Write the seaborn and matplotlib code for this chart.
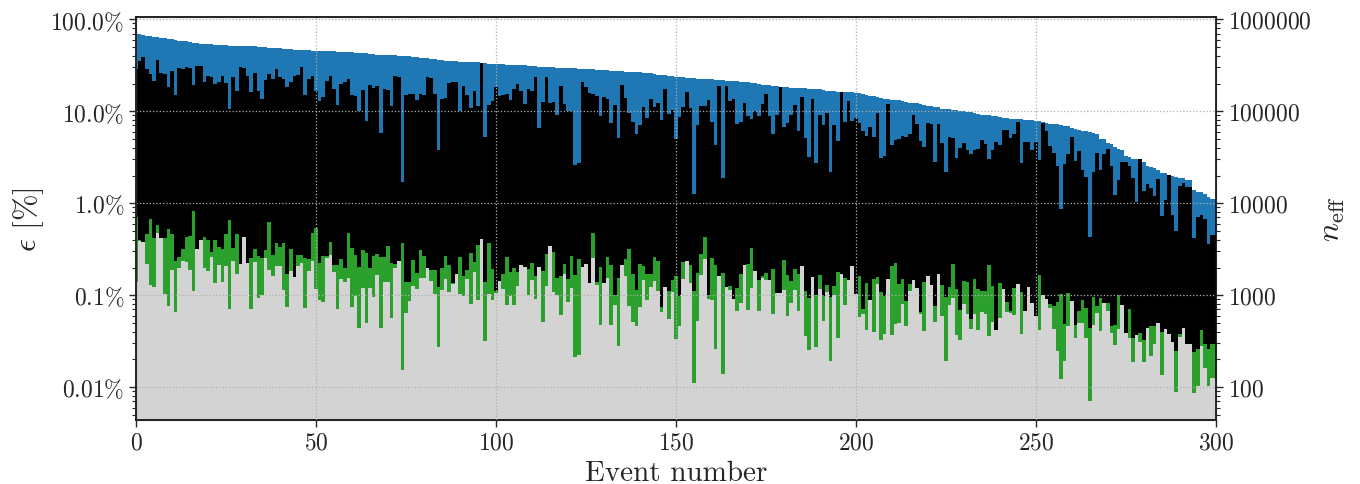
import numpy as np
import pandas as pd
import matplotlib
matplotlib.use("Agg")
import matplotlib.pyplot as plt
import seaborn as sns

# ---------------- data (percent efficiency per event) ----------------
blue_eff = [70.0, 69.4, 68.2, 66.5, 65.4, 64.3, 64.3, 62.8, 62.3, 61.2,
            61.2, 59.7, 58.7, 58.2, 58.2, 57.2, 55.8, 55.3, 53.9, 53.9,
            53.9, 53.9, 52.6, 52.6, 52.6, 52.6, 51.3, 51.3, 51.3, 51.3,
            51.3, 51.3, 51.3, 51.3, 50.1, 50.1, 50.1, 48.8, 48.8, 48.8,
            48.8, 47.6, 47.6, 47.6, 46.5, 46.5, 46.5, 46.5, 46.5, 45.3,
            45.3, 45.3, 45.3, 45.3, 45.3, 45.3, 44.2, 44.2, 44.2, 44.2,
            44.2, 43.1, 43.1, 43.1, 43.1, 42.0, 42.0, 41.0, 41.0, 41.0,
            41.0, 41.0, 41.0, 39.9, 39.9, 39.9, 39.9, 38.9, 38.9, 37.9,
            37.9, 37.9, 37.0, 37.0, 36.1, 36.1, 35.2, 35.2, 35.2, 35.2,
            34.3, 34.3, 34.3, 34.3, 34.3, 34.3, 33.5, 33.5, 32.6, 32.6,
            32.6, 32.6, 32.6, 31.8, 31.8, 31.8, 31.8, 31.8, 31.8, 31.0,
            31.0, 31.0, 30.2, 30.2, 30.2, 30.2, 30.2, 29.5, 29.5, 29.5,
            29.5, 29.5, 29.5, 28.7, 28.7, 28.7, 28.7, 28.7, 28.0, 28.0,
            28.0, 28.0, 27.3, 27.3, 27.3, 27.3, 26.6, 26.6, 26.6, 26.6,
            26.6, 26.0, 26.0, 26.0, 25.3, 24.7, 24.7, 24.7, 24.1, 24.1,
            23.5, 23.5, 23.5, 22.9, 22.9, 22.9, 22.3, 22.3, 22.3, 22.3,
            22.3, 21.8, 21.8, 21.8, 21.2, 21.2, 21.2, 21.2, 20.7, 20.7,
            20.7, 20.2, 20.2, 19.8, 19.3, 19.3, 19.3, 18.8, 18.8, 18.4,
            18.4, 18.4, 17.9, 17.9, 17.9, 17.9, 17.9, 17.5, 17.5, 17.5,
            17.5, 17.0, 16.6, 16.6, 16.6, 16.2, 16.2, 16.2, 16.2, 16.2,
            15.8, 15.8, 15.4, 15.0, 14.7, 14.7, 14.3, 14.0, 13.6, 13.6,
            13.3, 13.3, 13.3, 12.9, 12.6, 12.3, 12.3, 12.3, 12.0, 11.7,
            11.4, 11.4, 11.1, 11.1, 10.6, 10.6, 10.6, 10.3, 10.3, 10.0,
            10.0, 9.75, 9.75, 9.50, 9.27, 9.04, 9.04, 9.04, 8.82, 8.82,
            8.60, 8.39, 8.39, 8.32, 8.32, 8.18, 8.18, 7.98, 7.98, 7.98,
            7.78, 7.78, 7.59, 7.40, 7.22, 7.22, 7.22, 7.04, 6.87, 6.87,
            6.53, 6.37, 6.21, 6.06, 6.06, 5.91, 5.76, 5.62, 4.94, 4.94,
            4.47, 4.36, 4.04, 3.85, 3.75, 3.30, 3.22, 3.06, 2.99, 2.99,
            2.84, 2.57, 2.45, 2.39, 2.27, 2.11, 2.11, 2.05, 2.00, 1.95,
            1.90, 1.86, 1.77, 1.77, 1.39, 1.32, 1.32, 1.26, 1.17, 1.11,
            1.11]

black_eff = [29.0, 35.2, 38.9, 28.8, 25.4, 21.3, 36.1, 26.0, 25.4, 18.3,
             27.4, 15.0, 29.5, 28.8, 30.3, 29.5, 19.2, 31.0, 31.0, 20.8,
             24.1, 23.5, 19.7, 20.8, 24.1, 20.2, 10.6, 23.5, 16.5, 30.3,
             29.5, 24.1, 16.1, 26.0, 16.5, 13.5, 21.8, 25.4, 22.4, 28.8,
             23.5, 22.4, 18.3, 20.8, 24.1, 24.7, 30.3, 15.0, 22.4, 24.1,
             16.5, 12.9, 14.2, 21.3, 24.1, 17.4, 11.6, 19.7, 20.8, 22.4,
             15.0, 14.6, 10.0, 17.0, 7.78, 19.2, 17.8, 18.8, 5.75, 17.4,
             17.0, 11.3, 24.1, 23.5, 1.72, 15.0, 15.3, 15.3, 13.2, 15.3,
             15.0, 23.5, 22.9, 15.3, 3.78, 13.5, 13.9, 20.2, 20.8, 20.8,
             10.0, 18.8, 15.0, 10.8, 16.5, 11.3, 33.5, 5.20, 11.6, 12.9,
             18.3, 14.6, 15.0, 15.3, 13.2, 17.4, 19.7, 16.5, 11.9, 17.4,
             16.5, 23.5, 6.52, 12.5, 23.5, 12.2, 12.5, 9.04, 18.8, 11.9,
             10.0, 10.0, 2.63, 2.77, 20.8, 18.3, 15.7, 15.3, 14.6, 8.82,
             14.2, 13.5, 7.40, 11.6, 5.07, 19.2, 13.9, 9.51, 7.58, 5.61,
             7.03, 11.1, 8.39, 13.5, 11.1, 12.2, 7.98, 17.4, 9.27, 10.3,
             4.94, 8.60, 11.1, 16.1, 10.8, 1.27, 7.03, 11.3, 11.3, 13.2,
             7.58, 4.25, 18.8, 1.90, 18.8, 12.9, 13.5, 7.21, 7.58, 12.2,
             8.82, 8.18, 10.0, 8.82, 11.9, 15.3, 8.82, 5.61, 9.04, 18.3,
             6.69, 7.40, 9.04, 11.6, 6.05, 14.2, 5.07, 3.22, 13.5, 2.77,
             9.04, 7.03, 9.51, 2.21, 7.03, 4.70, 16.1, 7.58, 12.9, 7.78,
             8.39, 7.40, 6.05, 5.33, 6.69, 5.20, 9.51, 3.14, 3.30, 11.9,
             4.25, 4.82, 4.94, 5.33, 5.20, 5.61, 9.04, 7.21, 4.70, 4.04,
             7.40, 7.21, 2.84, 7.21, 4.47, 2.21, 5.20, 5.07, 3.14, 3.94,
             4.47, 3.75, 3.47, 3.75, 3.84, 4.82, 4.36, 2.99, 3.75, 4.58,
             4.25, 6.20, 6.20, 5.07, 5.61, 7.58, 2.77, 4.58, 4.58, 3.75,
             4.58, 2.94, 7.40, 6.05, 4.15, 3.56, 2.57, 0.871, 2.70, 3.39,
             5.20, 2.91, 3.66, 2.27, 1.95, 0.431, 2.21, 3.56, 2.27, 3.39,
             3.84, 2.57, 1.24, 1.81, 2.84, 2.84, 2.51, 1.90, 1.04, 2.99,
             1.37, 1.63, 1.48, 1.21, 1.85, 0.730, 1.09, 2.05, 0.749, 0.500,
             1.55, 1.67, 1.52, 1.52, 0.420, 0.712, 0.749, 0.677, 0.361, 0.457,
             0.457]

green_eff = [0.712, 0.403, 0.370, 0.464, 0.677, 0.420, 0.582, 0.38, 0.420, 0.526,
             0.464, 0.237, 0.260, 0.318, 0.430, 0.441, 0.828, 0.29, 0.36, 0.430,
             0.399, 0.295, 0.399, 0.335, 0.318, 0.464, 0.660, 0.326, 0.464, 0.20,
             0.39, 0.20, 0.256, 0.318, 0.269, 0.256, 0.310, 0.628, 0.276, 0.370,
             0.335, 0.370, 0.171, 0.318, 0.14, 0.276, 0.276, 0.256, 0.249, 0.476,
             0.540, 0.226, 0.269, 0.265, 0.380, 0.215, 0.215, 0.249, 0.199, 0.476,
             0.329, 0.274, 0.202, 0.310, 0.290, 0.197, 0.269, 0.281, 0.262, 0.262,
             0.343, 0.226, 0.220, 0.21, 0.370, 0.140, 0.140, 0.241, 0.174, 0.310,
             0.267, 0.18, 0.189, 0.189, 0.122, 0.199, 0.267, 0.215, 0.135, 0.15,
             0.260, 0.163, 0.189, 0.288, 0.231, 0.352, 0.36, 0.140, 0.370, 0.194,
             0.112, 0.13, 0.171, 0.262, 0.180, 0.199, 0.180, 0.19, 0.18, 0.194,
             0.226, 0.163, 0.18, 0.185, 0.283, 0.30, 0.298, 0.155, 0.163, 0.220,
             0.151, 0.269, 0.167, 0.249, 0.18, 0.19, 0.12, 0.476, 0.140, 0.204,
             0.12, 0.260, 0.215, 0.101, 0.155, 0.19, 0.249, 0.318, 0.171, 0.114,
             0.220, 0.206, 0.171, 0.171, 0.260, 0.237, 0.0752, 0.11, 0.112, 0.147,
             0.160, 0.0983, 0.231, 0.21, 0.215, 0.112, 0.175, 0.283, 0.430, 0.101,
             0.256, 0.215, 0.14, 0.175, 0.11, 0.126, 0.08, 0.120, 0.171, 0.19,
             0.220, 0.326, 0.16, 0.147, 0.163, 0.175, 0.13, 0.192, 0.095, 0.095,
             0.243, 0.167, 0.143, 0.192, 0.171, 0.18, 0.112, 0.0935, 0.14, 0.101,
             0.167, 0.0983, 0.130, 0.0959, 0.126, 0.180, 0.15, 0.155, 0.13, 0.18,
             0.09, 0.160, 0.0709, 0.136, 0.08, 0.151, 0.159, 0.109, 0.0983, 0.13,
             0.209, 0.226, 0.133, 0.151, 0.0860, 0.133, 0.13, 0.11, 0.0657, 0.140,
             0.14, 0.12, 0.0765, 0.15, 0.130, 0.0951, 0.122, 0.220, 0.117, 0.0691,
             0.143, 0.140, 0.0551, 0.151, 0.117, 0.112, 0.112, 0.215, 0.126, 0.037,
             0.136, 0.10, 0.0846, 0.0674, 0.120, 0.12, 0.109, 0.06, 0.11, 0.075,
             0.055, 0.167, 0.09, 0.08, 0.0804, 0.0765, 0.0846, 0.103, 0.0486, 0.106,
             0.08, 0.0474, 0.0674, 0.0889, 0.0727, 0.0440, 0.0959, 0.0765, 0.0935, 0.075,
             0.0824, 0.0462, 0.0474, 0.101, 0.07, 0.035, 0.0709, 0.0342, 0.033, 0.0388,
             0.0325, 0.04, 0.0462, 0.0462, 0.045, 0.0398, 0.04, 0.034, 0.028, 0.0246,
             0.0378, 0.04, 0.027, 0.027, 0.0240, 0.0259, 0.0418, 0.0294, 0.0259, 0.0294,
             0.0294]

grey_eff = [0.140, 0.389, 0.383, 0.220, 0.130, 0.123, 0.476, 0.420, 0.103, 0.0765,
            0.189, 0.0657, 0.199, 0.237, 0.231, 0.189, 0.112, 0.318, 0.399, 0.199,
            0.185, 0.260, 0.136, 0.215, 0.140, 0.209, 0.0709, 0.237, 0.171, 0.220,
            0.430, 0.226, 0.0709, 0.231, 0.0935, 0.101, 0.256, 0.189, 0.163, 0.209,
            0.209, 0.114, 0.0746, 0.185, 0.159, 0.209, 0.226, 0.0727, 0.185, 0.237,
            0.116, 0.0889, 0.0846, 0.256, 0.274, 0.180, 0.0709, 0.151, 0.140, 0.155,
            0.0746, 0.0983, 0.0440, 0.120, 0.0498, 0.120, 0.0959, 0.167, 0.0440, 0.140,
            0.140, 0.0565, 0.199, 0.237, 0.0153, 0.0641, 0.0867, 0.126, 0.117, 0.155,
            0.155, 0.199, 0.143, 0.103, 0.0272, 0.114, 0.151, 0.109, 0.133, 0.171,
            0.103, 0.0983, 0.151, 0.0804, 0.180, 0.0889, 0.409, 0.0317, 0.103, 0.0889,
            0.106, 0.143, 0.117, 0.0784, 0.0983, 0.0784, 0.126, 0.215, 0.204, 0.101,
            0.147, 0.0912, 0.204, 0.0511, 0.126, 0.346, 0.109, 0.101, 0.0610, 0.171,
            0.0846, 0.120, 0.0212, 0.0223, 0.204, 0.220, 0.136, 0.256, 0.130, 0.0474,
            0.136, 0.155, 0.0474, 0.0784, 0.0279, 0.215, 0.163, 0.0765, 0.0511, 0.0462,
            0.0746, 0.147, 0.0889, 0.123, 0.143, 0.112, 0.0657, 0.123, 0.0551, 0.109,
            0.0330, 0.0462, 0.151, 0.237, 0.136, 0.0110, 0.0524, 0.167, 0.249, 0.0912,
            0.0889, 0.0259, 0.163, 0.0138, 0.123, 0.114, 0.0912, 0.0674, 0.0824, 0.215,
            0.0691, 0.120, 0.185, 0.0674, 0.155, 0.147, 0.147, 0.0625, 0.106, 0.106,
            0.114, 0.0594, 0.0824, 0.114, 0.0674, 0.209, 0.0359, 0.0253, 0.159, 0.0272,
            0.117, 0.0524, 0.109, 0.0192, 0.101, 0.0342, 0.171, 0.0784, 0.147, 0.209,
            0.103, 0.0580, 0.0625, 0.0418, 0.0889, 0.0398, 0.133, 0.0325, 0.0378, 0.151,
            0.0369, 0.0486, 0.0498, 0.0804, 0.0462, 0.112, 0.147, 0.120, 0.0625, 0.0408,
            0.163, 0.130, 0.0511, 0.171, 0.0594, 0.0192, 0.0784, 0.0935, 0.0369, 0.0325,
            0.0804, 0.0625, 0.0429, 0.0625, 0.0418, 0.0657, 0.0625, 0.0359, 0.0511, 0.0418,
            0.0565, 0.117, 0.0657, 0.0641, 0.0610, 0.133, 0.0378, 0.0674, 0.123, 0.0824,
            0.0594, 0.0418, 0.101, 0.0912, 0.0727, 0.0429, 0.0246, 0.0122, 0.0192, 0.0462,
            0.0867, 0.0342, 0.0498, 0.0498, 0.0342, 0.0070, 0.0474, 0.0641, 0.0408, 0.0824,
            0.0674, 0.0388, 0.0287, 0.0429, 0.0784, 0.0388, 0.0342, 0.0187, 0.0369, 0.0309,
            0.0187, 0.0440, 0.0217, 0.0294, 0.0498, 0.0135, 0.0429, 0.0378, 0.0309, 0.00878,
            0.0350, 0.0440, 0.0294, 0.0294, 0.00856, 0.0102, 0.0279, 0.0161, 0.0102, 0.0125,
            0.0125]

events = list(range(len(blue_eff)))

x_ticks = [0, 50, 100, 150, 200, 250, 300]
y_ticks = [0.01, 0.1, 1.0, 10.0, 100.0]
y_tick_labels = [r"$0.01\%$", r"$0.1\%$", r"$1.0\%$", r"$10.0\%$", r"$100.0\%$"]
n_total = 1000000
neff_ticks = [100, 1000, 10000, 100000, 1000000]
neff_tick_labels = ["$100$", "$1000$", "$10000$", "$100000$", "$1000000$"]

# ---------------- style ----------------
sns.set_style("ticks")
plt.rcParams["font.family"] = ["cmr10", "DejaVu Serif"]
plt.rcParams["mathtext.fontset"] = "cm"
plt.rcParams["axes.unicode_minus"] = False
plt.rcParams["axes.formatter.use_mathtext"] = True

df = pd.DataFrame({"event": events, "blue": blue_eff, "black": black_eff,
                   "green": green_eff, "grey": grey_eff})

fig = plt.figure(figsize=(13.6, 4.85), dpi=100)
ax = fig.add_axes([0.1, 0.132, 0.794, 0.831])

series = [("blue", "#1f77b4"), ("black", "#000000"),
          ("green", "#2ca02c"), ("grey", "#d3d3d3")]
for col, c in series:
    sns.barplot(data=df, x="event", y=col, native_scale=True, width=1.0,
                color=c, saturation=1, linewidth=0, errorbar=None, ax=ax)
for p in ax.patches:
    p.set_antialiased(False)

ax.set_yscale("log")
ylo, yhi = 0.0044, 106.0
ax.set_ylim(ylo, yhi)
ax.set_xlim(0, 300)
ax.set_xticks(x_ticks)
ax.set_xticklabels([f"${t}$" for t in x_ticks])
ax.set_yticks(y_ticks)
ax.set_yticklabels(y_tick_labels)
ax.tick_params(axis="both", which="major", labelsize=17, length=5, width=1)
ax.tick_params(axis="y", which="minor", length=3, width=0.8)
ax.set_axisbelow(False)
ax.grid(True, which="major", linestyle=":", color="#b0b0b0", linewidth=0.9)
ax.set_xlabel("Event number", fontsize=21, labelpad=4)
ax.set_ylabel(r"$\epsilon\ [\%]$", fontsize=23, labelpad=3)
for s in ax.spines.values():
    s.set_linewidth(1.2)
    s.set_color("black")

ax2 = ax.twinx()
ax2.set_yscale("log")
ax2.set_ylim(ylo * n_total / 100, yhi * n_total / 100)
ax2.set_yticks(neff_ticks)
ax2.set_yticklabels(neff_tick_labels)
ax2.tick_params(axis="y", which="major", labelsize=17, length=5, width=1)
ax2.tick_params(axis="y", which="minor", length=3, width=0.8)
ax2.set_ylabel(r"$n_{\mathrm{eff}}$", fontsize=23, labelpad=6)
ax2.grid(False)

fig.savefig("out.png", dpi=100)
